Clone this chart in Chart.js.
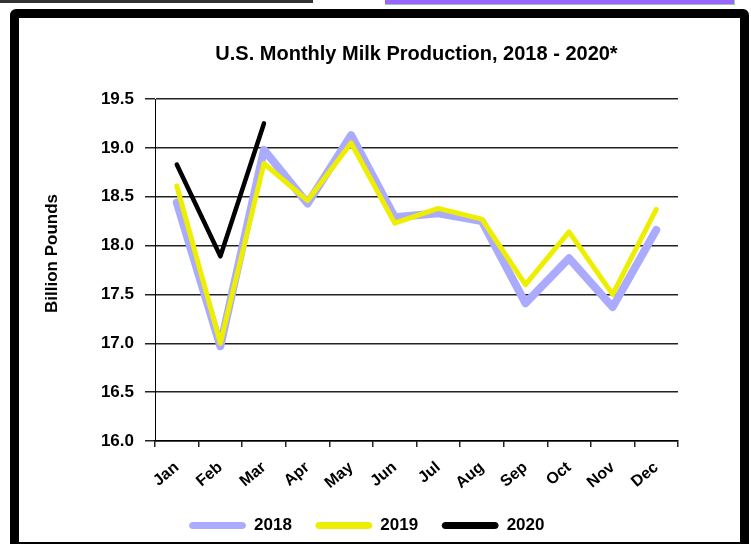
<!DOCTYPE html>
<html>
<head>
<meta charset="utf-8">
<script src="https://cdn.jsdelivr.net/npm/chart.js@4.4.1/dist/chart.umd.min.js"></script>
<style>
    html, body { margin: 0; padding: 0; background: #fff; overflow: hidden; }
    #wrap { position: relative; width: 751px; height: 544px; overflow: hidden; }
    .topline { position: absolute; left: 0; top: 0; width: 313px; height: 3px; background: #333; }
    .topbar { position: absolute; left: 385px; top: 0; width: 349px; height: 4px; background: #9966ff; border-right: 1px solid #9c9; border-bottom: 1px solid #9c9; }
    .frame { position: absolute; left: 10px; top: 9px; width: 721px; height: 524px; border: 9px solid #000; border-radius: 6px; }
    #chart { position: absolute; left: 0; top: 0; }
</style>
</head>
<body>
<div id="wrap">
    <div class="topline"></div>
    <div class="topbar"></div>
    <div class="frame"></div>
    <canvas id="chart" width="751" height="544"></canvas>
</div>
<script>
    "use strict";

    // Data (billion pounds)
    var months = ["Jan", "Feb", "Mar", "Apr", "May", "Jun", "Jul", "Aug", "Sep", "Oct", "Nov", "Dec"];
    var milk2018 = [18.44, 16.97, 18.98, 18.43, 19.13, 18.29, 18.33, 18.25, 17.41, 17.87, 17.37, 18.16];
    var milk2019 = [18.61, 17.00, 18.84, 18.46, 19.05, 18.23, 18.38, 18.27, 17.60, 18.14, 17.50, 18.37];
    var milk2020 = [18.83, 17.89, 19.25];
    var yTicks = [16.0, 16.5, 17.0, 17.5, 18.0, 18.5, 19.0, 19.5];

    var font = "'Liberation Sans', Arial, sans-serif";

    // nudge legend to the right like the original
    var legendShift = {
        id: "legendShift",
        afterLayout: function (chart) {
            chart.legend.left += 36;
        }
    };

    var ctx = document.getElementById("chart").getContext("2d");
    var myChart = new Chart(ctx, {
        type: "line",
        data: {
            labels: months,
            datasets: [{
                    label: "2018",
                    data: milk2018,
                    borderColor: "#aaaaff",
                    backgroundColor: "#aaaaff",
                    borderWidth: 8,
                    order: 3
                },
                {
                    label: "2019",
                    data: milk2019,
                    borderColor: "#eeee00",
                    backgroundColor: "#eeee00",
                    borderWidth: 5,
                    order: 2
                },
                {
                    label: "2020",
                    data: milk2020,
                    borderColor: "#000",
                    backgroundColor: "#000",
                    borderWidth: 4.5,
                    order: 1
                }
            ]
        },
        options: {
            responsive: false,
            animation: false,
            elements: {
                point: { radius: 0 },
                line: { tension: 0, borderCapStyle: "round", borderJoinStyle: "round" }
            },
            layout: { padding: { left: 20, right: 73, top: 30, bottom: 11 } },
            plugins: {
                title: {
                    display: true,
                    fullSize: false,
                    text: "U.S. Monthly Milk Production, 2018 - 2020*",
                    color: "#000",
                    font: { family: font, size: 20, weight: "bold" },
                    padding: { top: 12, bottom: 33 }
                },
                legend: {
                    position: "bottom",
                    maxHeight: 40,
                    labels: {
                        color: "#000",
                        font: { family: font, size: 17, weight: "bold" },
                        boxWidth: 56,
                        boxHeight: 6,
                        useBorderRadius: true,
                        borderRadius: 3,
                        padding: 24,
                        generateLabels: function (chart) {
                            return Chart.defaults.plugins.legend.labels.generateLabels(chart).map(function (l) {
                                l.lineWidth = 1;
                                l.strokeStyle = l.fillStyle;
                                return l;
                            });
                        },
                        sort: function (a, b) { return a.datasetIndex - b.datasetIndex; }
                    }
                },
                tooltip: { enabled: false }
            },
            scales: {
                x: {
                    offset: true,
                    grid: { drawOnChartArea: false, offset: true, tickLength: 6, color: "#222", lineWidth: 1.5 },
                    border: { color: "#000", width: 1.5 },
                    ticks: {
                        color: "#000",
                        minRotation: 40,
                        maxRotation: 40,
                        padding: 11,
                        font: { family: font, size: 16, weight: "bold" }
                    },
                    afterFit: function (scale) { scale.height = 52; }
                },
                y: {
                    min: 16,
                    max: 19.5,
                    afterBuildTicks: function (scale) {
                        scale.ticks = yTicks.map(function (v) { return { value: v }; });
                    },
                    ticks: {
                        color: "#000",
                        padding: 11,
                        font: { family: font, size: 17, weight: "bold" },
                        callback: function (v) { return Number(v).toFixed(1); }
                    },
                    grid: { color: "#222", lineWidth: 1.5, tickLength: 10 },
                    border: { color: "#000", width: 1 },
                    title: {
                        display: true,
                        text: "       Billion Pounds",
                        color: "#000",
                        font: { family: font, size: 17, weight: "bold" },
                        padding: { top: 22 }
                    },
                    afterFit: function (scale) { scale.width = 135; }
                }
            }
        },
        plugins: [legendShift]
    });
</script>
</body>
</html>
